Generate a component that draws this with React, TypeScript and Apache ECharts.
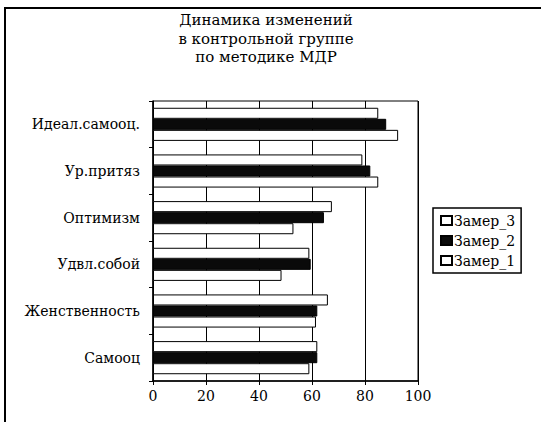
import React, { useEffect, useRef } from "react";
import * as echarts from "echarts";

const categories = ["Самооц", "Женственность", "Удвл.собой", "Оптимизм", "Ур.притяз", "Идеал.самооц."];
const seriesNames = ["Замер_3", "Замер_2", "Замер_1"];
const zamer3 = [62, 66, 59, 67.5, 79, 85];
const zamer2 = [62, 62, 59.5, 64.5, 82, 88];
const zamer1 = [59, 61.5, 48.5, 53, 85, 92.5];
const xTicks = [0, 20, 40, 60, 80, 100];
const titleLines = ["Динамика изменений", "в контрольной группе", "по методике МДР"];

const FONT = "DejaVu Serif";

export default function App() {
  const ref = useRef<HTMLDivElement>(null);
  useEffect(() => {
    const chart = echarts.init(ref.current!, null, { renderer: "svg" });
    const values = [zamer3, zamer2, zamer1];
    const fills = ["#ffffff", "#0a0a0a", "#ffffff"];
    chart.setOption({
      animation: false,
      backgroundColor: "#ffffff",
      title: {
        text: titleLines.join("\n"),
        left: 261,
        top: 6,
        textAlign: "center",
        textStyle: { fontFamily: FONT, fontSize: 15, fontWeight: "normal", color: "#000", lineHeight: 18.5 },
      },
      graphic: [
        { type: "line", shape: { x1: 5, y1: 8, x2: 5, y2: 422 }, style: { stroke: "#000", lineWidth: 2 } },
        { type: "line", shape: { x1: 4, y1: 8, x2: 541, y2: 8 }, style: { stroke: "#000", lineWidth: 2 } },
      ],
      legend: {
        orient: "vertical",
        left: 433,
        top: 208,
        data: seriesNames,
        borderColor: "#000",
        borderWidth: 1.5,
        padding: [5, 6, 5, 7],
        itemWidth: 11,
        itemHeight: 9,
        itemGap: 5,
        icon: "rect",
        textStyle: { fontFamily: FONT, fontSize: 14, color: "#000", padding: [0, 0, 0, -3], lineHeight: 15 },
      },
      grid: {
        left: 153,
        right: 123,
        top: 101,
        bottom: 41,
        show: true,
        borderColor: "#000",
        borderWidth: 1,
      },
      xAxis: {
        type: "value",
        min: 0,
        max: 100,
        interval: 20,
        axisLine: { show: true, lineStyle: { color: "#000", width: 1.5 } },
        axisTick: { show: true, length: 4, lineStyle: { color: "#000" } },
        splitLine: { show: true, lineStyle: { color: "#000", width: 1 } },
        axisLabel: {
          fontFamily: FONT,
          fontSize: 14,
          color: "#000",
          margin: 8,
          formatter: (v: number) => (xTicks.includes(v) ? String(v) : ""),
        },
      },
      yAxis: {
        type: "category",
        data: categories,
        axisLine: { show: true, lineStyle: { color: "#000", width: 1.5 } },
        axisTick: { show: true, length: 4, lineStyle: { color: "#000" } },
        axisLabel: { fontFamily: FONT, fontSize: 14, color: "#000", margin: 13 },
      },
      series: seriesNames.map((name, i) => ({
        name,
        type: "bar",
        data: values[i],
        barGap: "0%",
        barCategoryGap: "29%",
        itemStyle: { color: fills[i], borderColor: "#000", borderWidth: 1 },
      })),
    });
    return () => chart.dispose();
  }, []);
  return <div ref={ref} style={{ width: 541, height: 422, position: "absolute", left: 0, top: 0 }} />;
}
